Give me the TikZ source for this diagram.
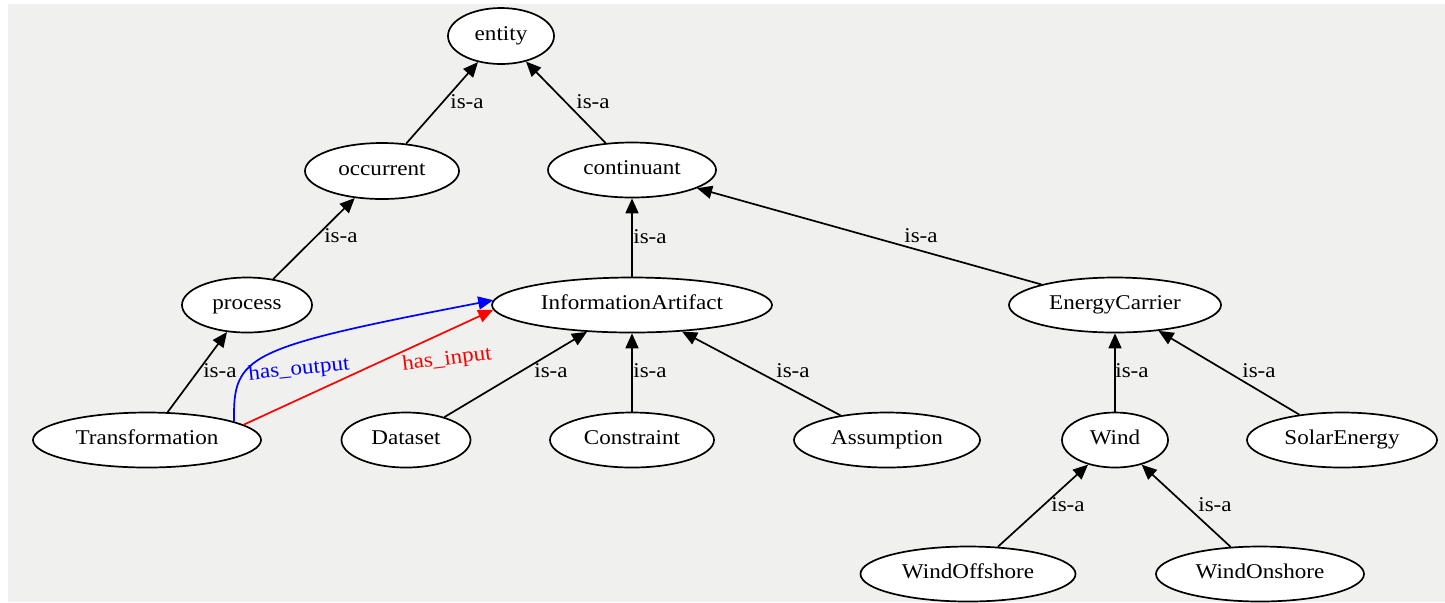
\documentclass[tikz,border=0pt]{standalone}
\usepackage{fontspec}
\setmainfont{Liberation Serif}
\usetikzlibrary{shapes.geometric,arrows.meta}
\newcommand\sx[1]{\scalebox{1.1}[1]{#1}}
\definecolor{bggray}{HTML}{F0F0EE}
\tikzset{
  nd/.style={ellipse, draw, fill=white, line width=0.85pt, inner sep=0pt,
    minimum height=27.5pt, text height=7.1pt, text depth=2.3pt,
    font=\fontsize{10.5pt}{12pt}\selectfont},
  isa/.style={draw, line width=0.85pt, -{Triangle[length=7.5pt,width=6.5pt]}},
  lbl/.style={inner sep=0pt, text height=7.1pt, text depth=2.3pt,
    font=\fontsize{10.5pt}{12pt}\selectfont}
}
\begin{document}
\begin{tikzpicture}[x=0.5pt,y=-0.5pt]
\useasboundingbox (0,0) rectangle (1445,602);
\fill[bggray] (8,4) rectangle (1445,602);
% nodes
\node[nd, minimum width=53pt, minimum height=28pt] (entity) at (501,36) {\sx{entity}};
\node[nd, minimum width=77pt, minimum height=28pt] (occurrent) at (382,171) {\sx{occurrent}};
\node[nd, minimum width=84pt] (continuant) at (632,170) {\sx{continuant}};
\node[nd, minimum width=65pt] (process) at (247,305) {\sx{process}};
\node[nd, minimum width=140pt] (IA) at (632,305) {\sx{InformationArtifact}};
\node[nd, minimum width=106pt] (EC) at (1115,305) {\sx{EnergyCarrier}};
\node[nd, minimum width=114pt] (T) at (147,440) {\sx{Transformation}};
\node[nd, minimum width=64.5pt] (Dataset) at (406,440) {\sx{Dataset}};
\node[nd, minimum width=82pt] (Constraint) at (632,440) {\sx{Constraint}};
\node[nd, minimum width=93pt] (Assumption) at (887,440) {\sx{Assumption}};
\node[nd, minimum width=53pt] (Wind) at (1115,440) {\sx{Wind}};
\node[nd, minimum width=95pt] (Solar) at (1342,440) {\sx{SolarEnergy}};
\node[nd, minimum width=107.5pt] (Off) at (968,574) {\sx{WindOffshore}};
\node[nd, minimum width=104pt] (On) at (1260,574) {\sx{WindOnshore}};
% is-a edges
\draw[isa] (occurrent) -- (entity);
\draw[isa] (continuant) -- (entity);
\draw[isa] (process) -- (occurrent);
\draw[isa] (IA) -- (continuant);
\draw[isa] (EC) -- (continuant);
\draw[isa] (T) -- (process);
\draw[isa] (Dataset) -- (IA);
\draw[isa] (Constraint) -- (IA);
\draw[isa] (Assumption) -- (IA);
\draw[isa] (Wind) -- (EC);
\draw[isa] (Solar) -- (EC);
\draw[isa] (Off) -- (Wind);
\draw[isa] (On) -- (Wind);
% relation edges
\draw[line width=0.85pt, blue, -{Triangle[length=7.5pt,width=6.5pt]}]
  (T.12) .. controls (233,355) and (245,348) .. (IA.178);
\draw[line width=0.85pt, red, -{Triangle[length=7.5pt,width=6.5pt]}]
  (T.9) -- (IA.182);
% labels
\node[lbl] (l1) at (467,104) {\sx{is-a}};
\node[lbl] (l2) at (593,104) {\sx{is-a}};
\node[lbl] (l3) at (341,238) {\sx{is-a}};
\node[lbl] (l4) at (650,239) {\sx{is-a}};
\node[lbl] (l5) at (921,238) {\sx{is-a}};
\node[lbl] (l6) at (220,373) {\sx{is-a}};
\node[lbl] (l7) at (551,373) {\sx{is-a}};
\node[lbl] (l8) at (650,373) {\sx{is-a}};
\node[lbl] (l9) at (793,373) {\sx{is-a}};
\node[lbl] (l10) at (1132,373) {\sx{is-a}};
\node[lbl] (l11) at (1259,373) {\sx{is-a}};
\node[lbl] (l12) at (1068,507) {\sx{is-a}};
\node[lbl] (l13) at (1215,507) {\sx{is-a}};
\node[lbl, text=blue, rotate=6] (lout) at (299,370) {\sx{has\_output}};
\node[lbl, text=red, rotate=7] (lin) at (447,360) {\sx{has\_input}};
\end{tikzpicture}
\end{document}
